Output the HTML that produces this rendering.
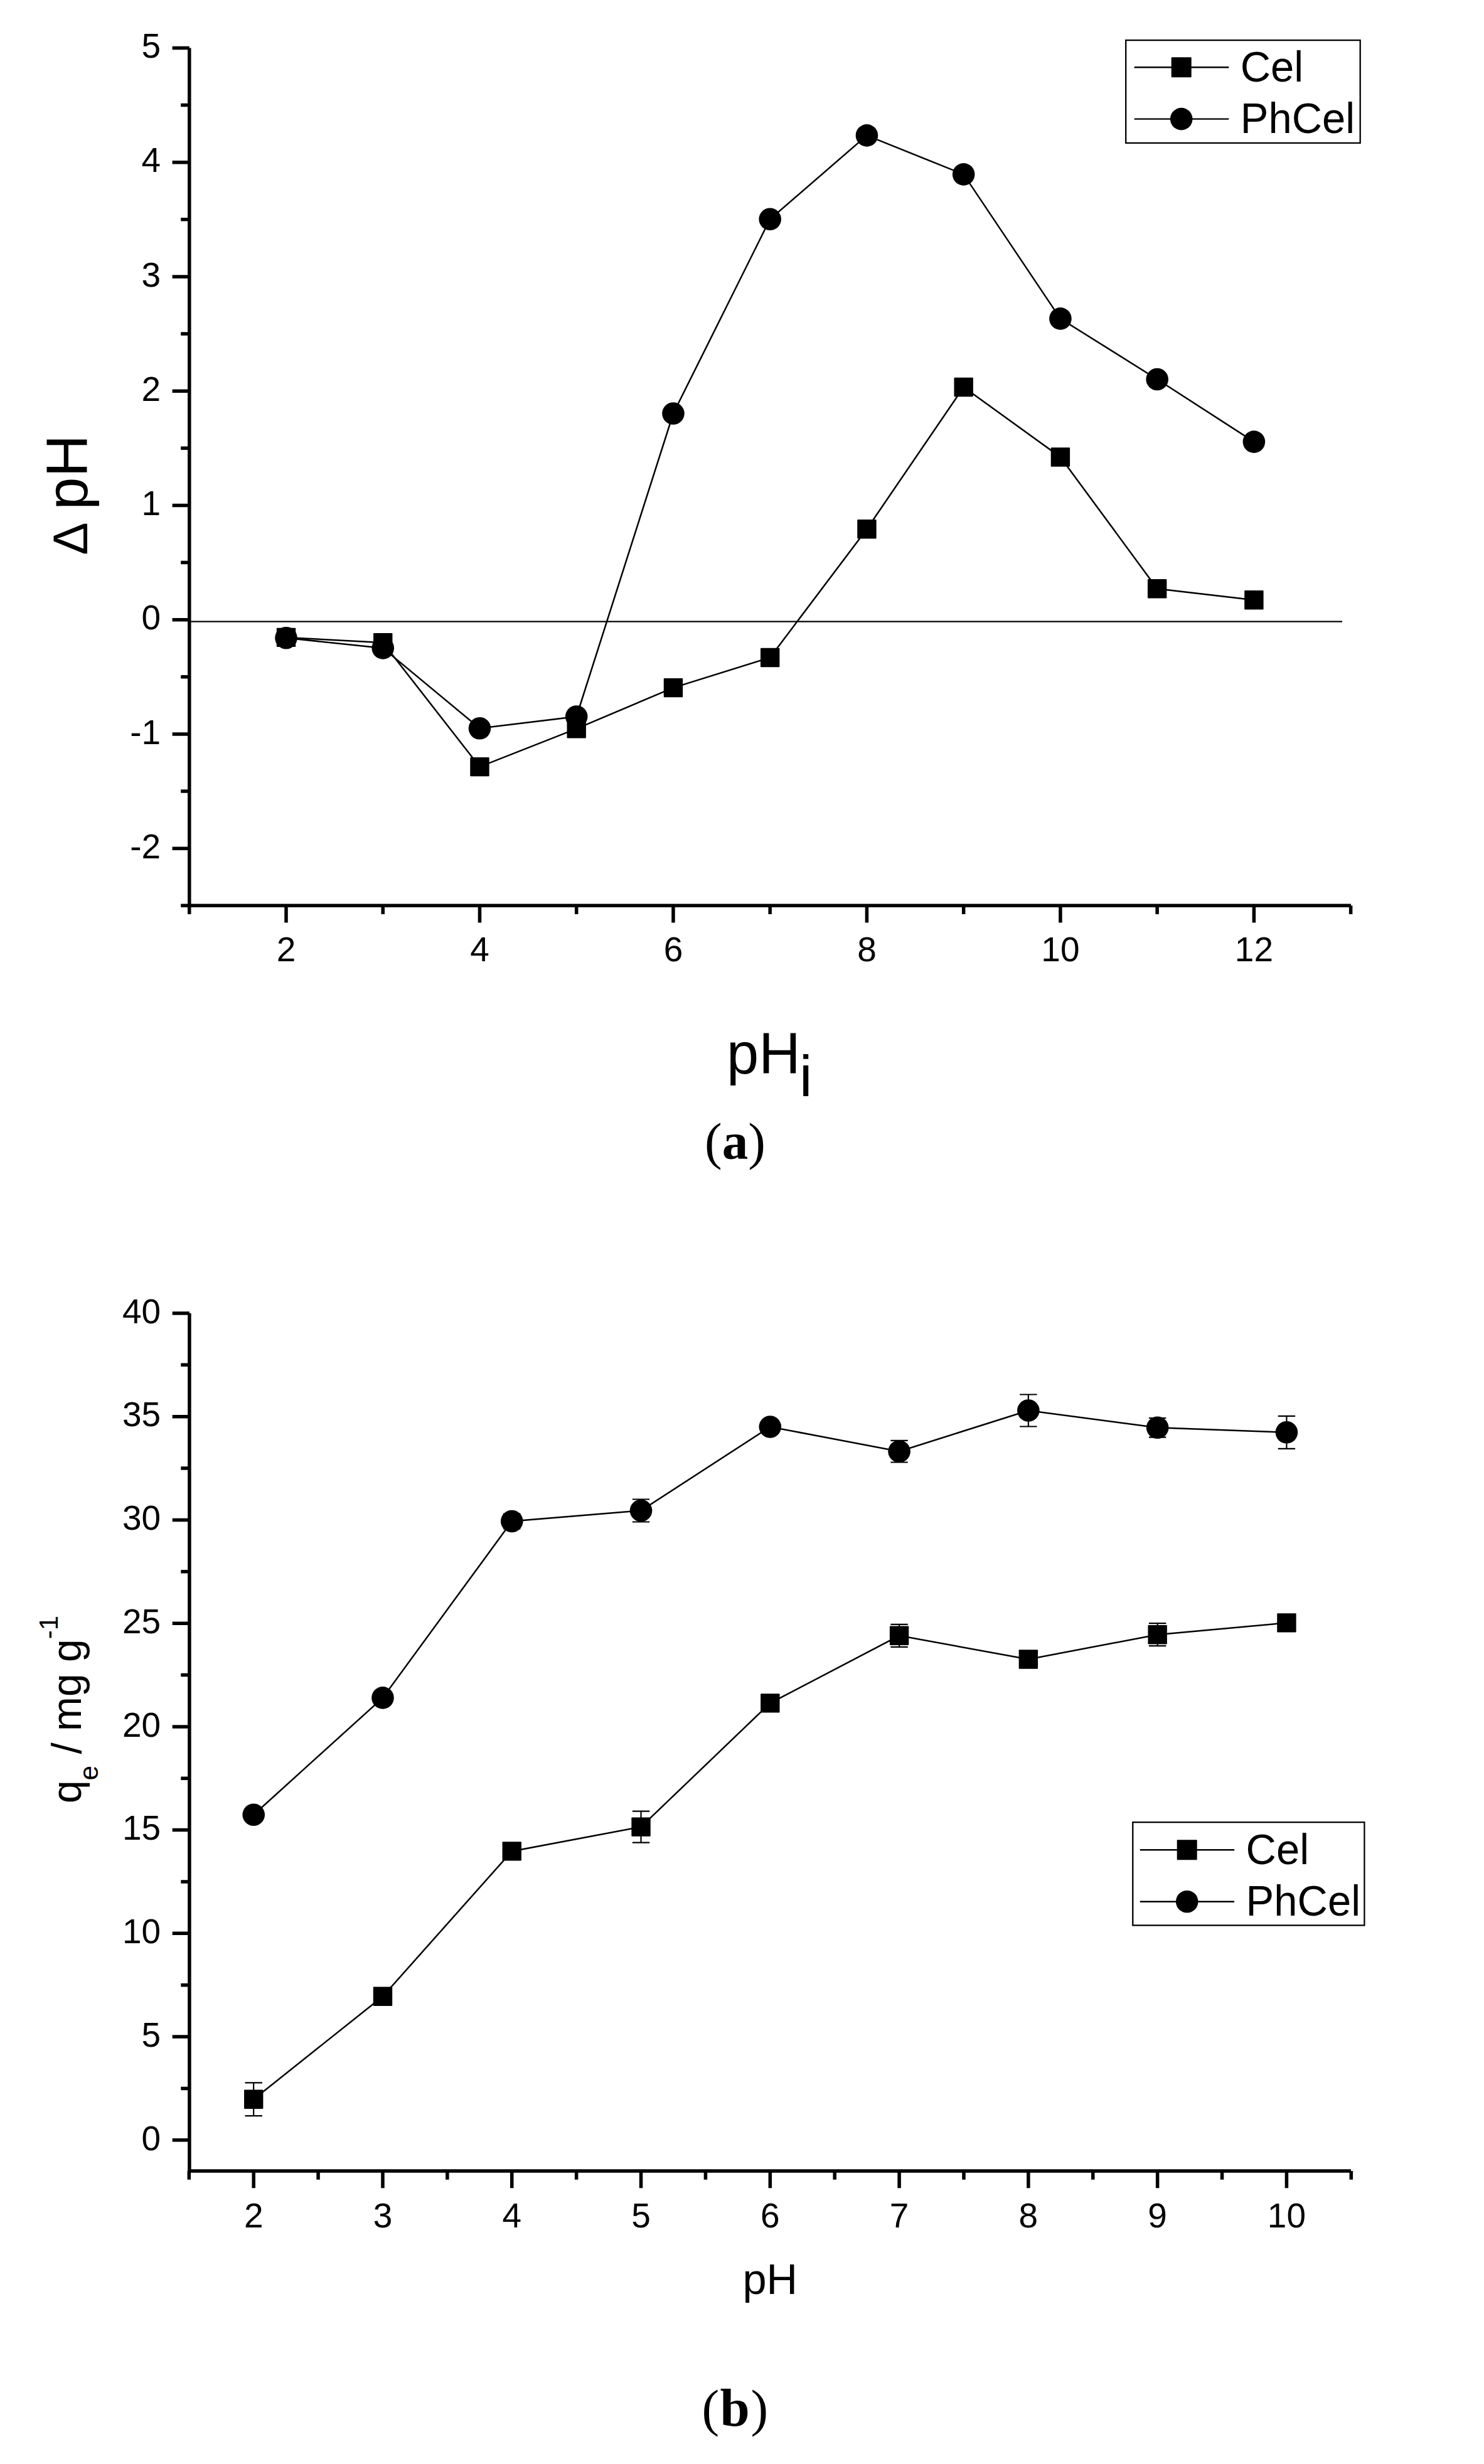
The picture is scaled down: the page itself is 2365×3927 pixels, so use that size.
<!DOCTYPE html>
<html><head><meta charset="utf-8"><title>Figure</title>
<style>html,body{margin:0;padding:0;background:#fff}svg{display:block}text{font-family:"Liberation Sans",sans-serif;fill:#000}.t{font-size:55px}.ser{font-family:"Liberation Serif",serif}</style></head><body>
<svg width="2365" height="3927" viewBox="0 0 2365 3927">
<rect width="2365" height="3927" fill="#fff"/>
<g stroke="#000" stroke-width="5.5" fill="none">
<path d="M301.8 76.5 V1443.3"/>
<path d="M299.05 1443.3 H2153"/>
<path d="M456 1443.3 v27.2 M764.48 1443.3 v27.2 M1072.96 1443.3 v27.2 M1381.44 1443.3 v27.2 M1689.92 1443.3 v27.2 M1998.4 1443.3 v27.2 M301.76 1443.3 v13.6 M610.24 1443.3 v13.6 M918.72 1443.3 v13.6 M1227.2 1443.3 v13.6 M1535.68 1443.3 v13.6 M1844.16 1443.3 v13.6 M2152.64 1443.3 v13.6 M301.8 76.5 h-27.2 M301.8 258.74 h-27.2 M301.8 440.98 h-27.2 M301.8 623.22 h-27.2 M301.8 805.46 h-27.2 M301.8 987.7 h-27.2 M301.8 1169.94 h-27.2 M301.8 1352.18 h-27.2 M301.8 167.62 h-13.6 M301.8 349.86 h-13.6 M301.8 532.1 h-13.6 M301.8 714.34 h-13.6 M301.8 896.58 h-13.6 M301.8 1078.82 h-13.6 M301.8 1261.06 h-13.6 M301.8 1443.3 h-13.6"/>
</g>
<g class="t" text-anchor="middle">
<text transform="translate(456 1532.2) scale(1 1.025)">2</text>
<text transform="translate(764.48 1532.2) scale(1 1.025)">4</text>
<text transform="translate(1072.96 1532.2) scale(1 1.025)">6</text>
<text transform="translate(1381.44 1532.2) scale(1 1.025)">8</text>
<text transform="translate(1689.92 1532.2) scale(1 1.025)">10</text>
<text transform="translate(1998.4 1532.2) scale(1 1.025)">12</text>
</g>
<g class="t" text-anchor="end">
<text transform="translate(256.1 92.2) scale(1 1.025)">5</text>
<text transform="translate(256.1 274.44) scale(1 1.025)">4</text>
<text transform="translate(256.1 456.68) scale(1 1.025)">3</text>
<text transform="translate(256.1 638.92) scale(1 1.025)">2</text>
<text transform="translate(256.1 821.16) scale(1 1.025)">1</text>
<text transform="translate(256.1 1003.4) scale(1 1.025)">0</text>
<text transform="translate(256.1 1185.64) scale(1 1.025)">-1</text>
<text transform="translate(256.1 1367.88) scale(1 1.025)">-2</text>
</g>
<path stroke="#000" stroke-width="2.4" d="M301.8 990.6 H2139"/>
<polyline fill="none" stroke="#000" stroke-width="2.5" points="456,1015.9 610.24,1024.2 764.48,1222.1 918.72,1161.4 1072.96,1096.1 1227.2,1048 1381.44,843.2 1535.68,617 1689.92,728.5 1844.16,938.2 1998.4,956.2"/>
<rect x="440.8" y="1000.7" width="30.4" height="30.4" rx="1"/>
<rect x="595.04" y="1009" width="30.4" height="30.4" rx="1"/>
<rect x="749.28" y="1206.9" width="30.4" height="30.4" rx="1"/>
<rect x="903.52" y="1146.2" width="30.4" height="30.4" rx="1"/>
<rect x="1057.76" y="1080.9" width="30.4" height="30.4" rx="1"/>
<rect x="1212" y="1032.8" width="30.4" height="30.4" rx="1"/>
<rect x="1366.24" y="828" width="30.4" height="30.4" rx="1"/>
<rect x="1520.48" y="601.8" width="30.4" height="30.4" rx="1"/>
<rect x="1674.72" y="713.3" width="30.4" height="30.4" rx="1"/>
<rect x="1828.96" y="923" width="30.4" height="30.4" rx="1"/>
<rect x="1983.2" y="941" width="30.4" height="30.4" rx="1"/>
<polyline fill="none" stroke="#000" stroke-width="2.5" points="456,1016.7 610.24,1032.9 764.48,1160.8 918.72,1142 1072.96,659 1227.2,349.3 1381.44,215.9 1535.68,277.9 1689.92,507.9 1844.16,604.5 1998.4,704.1"/>
<circle cx="456" cy="1016.7" r="17.8"/>
<circle cx="610.24" cy="1032.9" r="17.8"/>
<circle cx="764.48" cy="1160.8" r="17.8"/>
<circle cx="918.72" cy="1142" r="17.8"/>
<circle cx="1072.96" cy="659" r="17.8"/>
<circle cx="1227.2" cy="349.3" r="17.8"/>
<circle cx="1381.44" cy="215.9" r="17.8"/>
<circle cx="1535.68" cy="277.9" r="17.8"/>
<circle cx="1689.92" cy="507.9" r="17.8"/>
<circle cx="1844.16" cy="604.5" r="17.8"/>
<circle cx="1998.4" cy="704.1" r="17.8"/>
<rect x="1794.2" y="64.1" width="373.5" height="163.8" fill="#fff" stroke="#000" stroke-width="2.3"/>
<path stroke="#000" stroke-width="2.4" d="M1807.7 107.3 H1958.3 M1807.7 189.6 H1958.3"/>
<rect x="1866.7" y="91.3" width="32" height="32" rx="1"/>
<circle cx="1882.7" cy="189.6" r="17.8"/>
<text transform="translate(1976.7 130) scale(1 1.035)" font-size="67">Cel</text>
<text transform="translate(1976.7 211.8) scale(1 1.035)" font-size="67">PhCel</text>
<text transform="translate(139.1 884.5) rotate(-90)" font-size="78">Δ</text>
<text transform="translate(139.1 812.4) rotate(-90)" font-size="93.5">pH</text>
<text x="1158" y="1711" font-size="92">pH<tspan dx="-1.5" dy="36">i</tspan></text>
<text class="ser" x="1171.5" y="1846.6" font-size="83" text-anchor="middle">(<tspan font-weight="bold">a</tspan>)</text>
<g stroke="#000" stroke-width="5.5" fill="none">
<path d="M301.9 2093 V3460.1"/>
<path d="M299.15 3460.1 H2153"/>
<path d="M404.2 3460.1 v27.2 M609.98 3460.1 v27.2 M815.76 3460.1 v27.2 M1021.54 3460.1 v27.2 M1227.32 3460.1 v27.2 M1433.1 3460.1 v27.2 M1638.88 3460.1 v27.2 M1844.66 3460.1 v27.2 M2050.44 3460.1 v27.2 M301.31 3460.1 v13.6 M507.09 3460.1 v13.6 M712.87 3460.1 v13.6 M918.65 3460.1 v13.6 M1124.43 3460.1 v13.6 M1330.21 3460.1 v13.6 M1535.99 3460.1 v13.6 M1741.77 3460.1 v13.6 M1947.55 3460.1 v13.6 M2153.33 3460.1 v13.6 M301.9 3410.8 h-27.2 M301.9 3246.08 h-27.2 M301.9 3081.35 h-27.2 M301.9 2916.62 h-27.2 M301.9 2751.9 h-27.2 M301.9 2587.18 h-27.2 M301.9 2422.45 h-27.2 M301.9 2257.73 h-27.2 M301.9 2093 h-27.2 M301.9 3328.44 h-13.6 M301.9 3163.71 h-13.6 M301.9 2998.99 h-13.6 M301.9 2834.26 h-13.6 M301.9 2669.54 h-13.6 M301.9 2504.81 h-13.6 M301.9 2340.09 h-13.6 M301.9 2175.36 h-13.6"/>
</g>
<g class="t" text-anchor="middle">
<text transform="translate(404.2 3549.6) scale(1 1.025)">2</text>
<text transform="translate(609.98 3549.6) scale(1 1.025)">3</text>
<text transform="translate(815.76 3549.6) scale(1 1.025)">4</text>
<text transform="translate(1021.54 3549.6) scale(1 1.025)">5</text>
<text transform="translate(1227.32 3549.6) scale(1 1.025)">6</text>
<text transform="translate(1433.1 3549.6) scale(1 1.025)">7</text>
<text transform="translate(1638.88 3549.6) scale(1 1.025)">8</text>
<text transform="translate(1844.66 3549.6) scale(1 1.025)">9</text>
<text transform="translate(2050.44 3549.6) scale(1 1.025)">10</text>
</g>
<g class="t" text-anchor="end">
<text transform="translate(256.1 3426.5) scale(1 1.025)">0</text>
<text transform="translate(256.1 3261.78) scale(1 1.025)">5</text>
<text transform="translate(256.1 3097.05) scale(1 1.025)">10</text>
<text transform="translate(256.1 2932.32) scale(1 1.025)">15</text>
<text transform="translate(256.1 2767.6) scale(1 1.025)">20</text>
<text transform="translate(256.1 2602.88) scale(1 1.025)">25</text>
<text transform="translate(256.1 2438.15) scale(1 1.025)">30</text>
<text transform="translate(256.1 2273.43) scale(1 1.025)">35</text>
<text transform="translate(256.1 2108.7) scale(1 1.025)">40</text>
</g>
<polyline fill="none" stroke="#000" stroke-width="2.5" points="404.2,3345.7 609.98,3181.8 815.76,2950.4 1021.54,2911.6 1227.32,2714.4 1433.1,2606.8 1638.88,2644.5 1844.66,2605.2 2050.44,2586.4"/>
<path fill="none" stroke="#000" stroke-width="2.2" d="M404.2 3319.3 V3372.1 M390.5 3319.3 h27.4 M390.5 3372.1 h27.4 M1021.54 2886.6 V2936.6 M1007.84 2886.6 h27.4 M1007.84 2936.6 h27.4 M1433.1 2588.8 V2624.8 M1419.4 2588.8 h27.4 M1419.4 2624.8 h27.4 M1844.66 2587.2 V2623.2 M1830.96 2587.2 h27.4 M1830.96 2623.2 h27.4"/>
<rect x="389" y="3330.5" width="30.4" height="30.4" rx="1"/>
<rect x="594.78" y="3166.6" width="30.4" height="30.4" rx="1"/>
<rect x="800.56" y="2935.2" width="30.4" height="30.4" rx="1"/>
<rect x="1006.34" y="2896.4" width="30.4" height="30.4" rx="1"/>
<rect x="1212.12" y="2699.2" width="30.4" height="30.4" rx="1"/>
<rect x="1417.9" y="2591.6" width="30.4" height="30.4" rx="1"/>
<rect x="1623.68" y="2629.3" width="30.4" height="30.4" rx="1"/>
<rect x="1829.46" y="2590" width="30.4" height="30.4" rx="1"/>
<rect x="2035.24" y="2571.2" width="30.4" height="30.4" rx="1"/>
<polyline fill="none" stroke="#000" stroke-width="2.5" points="404.2,2892.2 609.98,2705.9 815.76,2424.5 1021.54,2407.5 1227.32,2274 1433.1,2313.2 1638.88,2248 1844.66,2275.3 2050.44,2282.8"/>
<path fill="none" stroke="#000" stroke-width="2.2" d="M815.76 2412.5 V2436.5 M802.06 2412.5 h27.4 M802.06 2436.5 h27.4 M1021.54 2389.5 V2425.5 M1007.84 2389.5 h27.4 M1007.84 2425.5 h27.4 M1433.1 2295.9 V2330.5 M1419.4 2295.9 h27.4 M1419.4 2330.5 h27.4 M1638.88 2222.5 V2273.5 M1625.18 2222.5 h27.4 M1625.18 2273.5 h27.4 M1844.66 2260 V2290.6 M1830.96 2260 h27.4 M1830.96 2290.6 h27.4 M2050.44 2256.8 V2308.8 M2036.74 2256.8 h27.4 M2036.74 2308.8 h27.4"/>
<circle cx="404.2" cy="2892.2" r="17.8"/>
<circle cx="609.98" cy="2705.9" r="17.8"/>
<circle cx="815.76" cy="2424.5" r="17.8"/>
<circle cx="1021.54" cy="2407.5" r="17.8"/>
<circle cx="1227.32" cy="2274" r="17.8"/>
<circle cx="1433.1" cy="2313.2" r="17.8"/>
<circle cx="1638.88" cy="2248" r="17.8"/>
<circle cx="1844.66" cy="2275.3" r="17.8"/>
<circle cx="2050.44" cy="2282.8" r="17.8"/>
<rect x="1805.3" y="2904.2" width="369.1" height="164.3" fill="#fff" stroke="#000" stroke-width="2.3"/>
<path stroke="#000" stroke-width="2.4" d="M1816.8 2948.2 H1967.1 M1816.8 3030.7 H1967.1"/>
<rect x="1875.7" y="2932.2" width="32" height="32" rx="1"/>
<circle cx="1891.7" cy="3030.7" r="17.8"/>
<text transform="translate(1985.6 2971.1) scale(1 1.035)" font-size="67">Cel</text>
<text transform="translate(1985.6 3052.6) scale(1 1.035)" font-size="67">PhCel</text>
<text transform="translate(128.8 2874) rotate(-90)" font-size="66">q<tspan font-size="42" dy="27.5">e</tspan><tspan dy="-27.5"> / mg g</tspan><tspan font-size="42" dy="-36.6">-1</tspan></text>
<text x="1183.5" y="3655.8" font-size="68.5">pH</text>
<text class="ser" x="1172" y="3865.5" font-size="83" text-anchor="middle" letter-spacing="1.5">(<tspan font-weight="bold" font-size="85">b</tspan>)</text>
</svg></body></html>
